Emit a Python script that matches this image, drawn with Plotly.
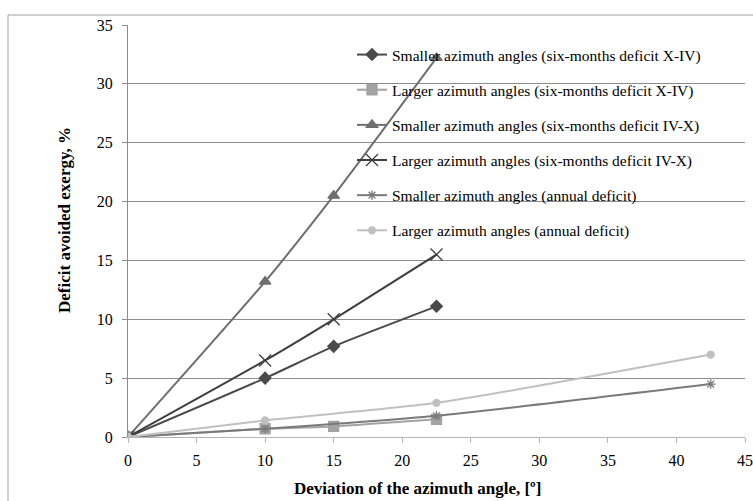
import plotly.graph_objects as go

names = [
    "Smaller azimuth angles (six-months deficit X-IV)",
    "Larger azimuth angles (six-months deficit X-IV)",
    "Smaller azimuth angles (six-months deficit IV-X)",
    "Larger azimuth angles (six-months deficit IV-X)",
    "Smaller azimuth angles (annual deficit)",
    "Larger azimuth angles (annual deficit)",
]
x_six = [0, 10, 15, 22.5]
x_annual = [0, 10, 22.5, 42.5]
y_small_xiv = [0, 5.0, 7.7, 11.1]
y_large_xiv = [0, 0.7, 0.9, 1.5]
y_small_ivx = [0, 13.2, 20.5, 32.2]
y_large_ivx = [0, 6.5, 10.0, 15.5]
y_small_ann = [0, 0.7, 1.8, 4.5]
y_large_ann = [0, 1.4, 2.9, 7.0]

xs = [x_six, x_six, x_six, x_six, x_annual, x_annual]
ys = [y_small_xiv, y_large_xiv, y_small_ivx, y_large_ivx, y_small_ann, y_large_ann]
colors = ["#4a4a4a", "#a3a3a3", "#6e6e6e", "#3e3e3e", "#7a7a7a", "#c0c0c0"]
symbols = ["diamond", "square", "triangle-up", "x-thin-open", "asterisk-open", "circle"]
sizes = [9, 10, 10, 12, 8, 7]

fig = go.Figure()
for i in range(6):
    fig.add_trace(go.Scatter(
        x=xs[i], y=ys[i], name=names[i], mode="lines+markers",
        line=dict(color=colors[i], width=2, shape="spline", smoothing=0.6),
        marker=dict(symbol=symbols[i], size=sizes[i], color=colors[i],
                    line=dict(color=colors[i], width=1.3)),
        legendgroup=str(i),
    ))

FONT = "Liberation Serif, Times New Roman, serif"
W, H = 753, 501
L, R, T, B = 128, 8, 25, 64
pw, ph = W - L - R, H - T - B

def px(xp):
    return (xp - L) / pw

def py(yp):
    return 1 - (yp - T) / ph

fig.update_layout(
    width=W, height=H,
    margin=dict(l=L, r=R, t=T, b=B, autoexpand=False),
    paper_bgcolor="white", plot_bgcolor="white",
    font=dict(family=FONT, size=16, color="#000000"),
    showlegend=True,
    legend=dict(x=px(352), y=py(38), xanchor="left", yanchor="top",
                font=dict(family=FONT, size=15.5, color="#000"),
                bgcolor="rgba(0,0,0,0)", tracegroupgap=12, traceorder="grouped"),
    xaxis=dict(range=[0, 45], tickvals=[0, 5, 10, 15, 20, 25, 30, 35, 40, 45],
               showgrid=False, zeroline=False, showline=True, linecolor="#b5b5b5",
               linewidth=1, ticks="outside", ticklen=5, tickcolor="#b5b5b5",
               ticklabelstandoff=4,
               tickfont=dict(family=FONT, size=16, color="#000"), automargin=False),
    yaxis=dict(range=[0, 35], tickvals=[0, 5, 10, 15, 20, 25, 30, 35],
               showgrid=True, gridcolor="#8c8c8c", gridwidth=1, zeroline=False,
               showline=True, linecolor="#8c8c8c", linewidth=1,
               ticks="outside", ticklen=5, tickcolor="#8c8c8c",
               ticklabelstandoff=6,
               tickfont=dict(family=FONT, size=16, color="#000"), automargin=False),
    annotations=[
        dict(text="<b>Deviation of the azimuth angle, [º]</b>", xref="paper", yref="paper",
             x=px(417), y=py(488), xanchor="center", yanchor="middle", showarrow=False,
             font=dict(family=FONT, size=17, color="#000")),
        dict(text="<b>Deficit avoided exergy, %</b>", xref="paper", yref="paper",
             x=px(64), y=py(220), xanchor="center", yanchor="middle", showarrow=False,
             textangle=-90, font=dict(family=FONT, size=17, color="#000")),
    ],
    shapes=[dict(type="rect", xref="paper", yref="paper",
                 x0=px(8), x1=1.2, y0=-0.3, y1=py(15),
                 line=dict(color="#a0a0a0", width=1), fillcolor="rgba(0,0,0,0)",
                 layer="below")],
)

fig.write_html("out.html", config={"displayModeBar": False},
               post_script="document.body.style.margin='0px';")
